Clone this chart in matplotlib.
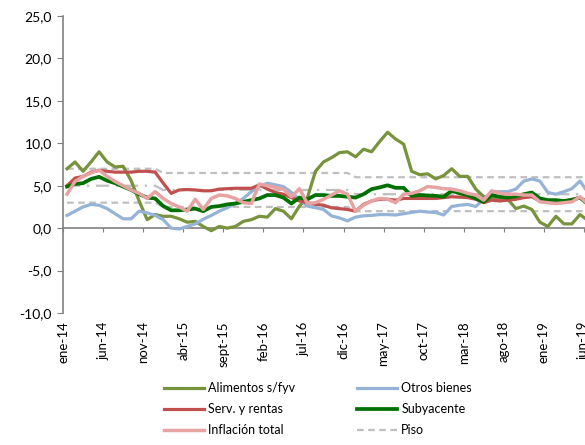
import numpy as np
import matplotlib
matplotlib.use("Agg")
import matplotlib.pyplot as plt

plt.rcParams['font.family'] = ['Lato', 'DejaVu Sans']

meses = ["ene", "feb", "mar", "abr", "may", "jun", "jul", "ago", "sept", "oct", "nov", "dic"]

alimentos = [7.0, 7.8, 6.7, 7.8, 9.0, 7.8, 7.2, 7.3, 5.6, 3.2,
             1.0, 1.6, 1.4, 1.4, 1.1, 0.7, 0.8, 0.2, -0.3, 0.2,
             0.0, 0.2, 0.8, 1.0, 1.4, 1.3, 2.3, 2.0, 1.1, 2.6,
             3.6, 6.7, 7.8, 8.3, 8.9, 9.0, 8.4, 9.3, 9.0, 10.2,
             11.3, 10.5, 9.9, 6.7, 6.3, 6.4, 5.8, 6.2, 7.0, 6.1,
             6.1, 4.6, 3.7, 3.6, 3.5, 3.4, 2.3, 2.6, 2.2, 0.7,
             0.2, 1.4, 0.5, 0.5, 1.6, 0.9]
otros = [1.5, 2.0, 2.5, 2.8, 2.7, 2.3, 1.7, 1.1, 1.1, 2.0,
         1.8, 1.5, 1.0, 0.0, -0.1, 0.2, 0.5, 1.05, 1.5, 2.0,
         2.4, 2.9, 3.5, 4.3, 4.9, 5.3, 5.1, 4.9, 4.2, 3.4,
         2.6, 2.4, 2.2, 1.45, 1.2, 0.86, 1.3, 1.45, 1.5, 1.6,
         1.6, 1.55, 1.7, 1.85, 2.0, 1.9, 1.85, 1.55, 2.55, 2.7,
         2.8, 2.55, 3.4, 4.3, 4.3, 4.3, 4.6, 5.55, 5.8, 5.55,
         4.2, 4.0, 4.3, 4.65, 5.55, 4.2]
serv = [5.0, 5.9, 6.1, 6.6, 6.8, 6.7, 6.6, 6.6, 6.6, 6.7,
        6.7, 6.6, 5.3, 4.1, 4.5, 4.55, 4.5, 4.4, 4.4, 4.6,
        4.65, 4.7, 4.7, 4.7, 5.1, 4.6, 4.2, 4.0, 3.6, 3.2,
        3.0, 2.8, 2.7, 2.4, 2.3, 2.2, 2.0, 2.8, 3.2, 3.4,
        3.4, 3.3, 3.5, 3.5, 3.5, 3.5, 3.5, 3.6, 3.7, 3.65,
        3.6, 3.4, 3.0, 3.3, 3.2, 3.3, 3.4, 3.6, 3.7, 3.2,
        3.1, 3.1, 3.2, 3.4, 3.6, 3.1]
subyacente = [4.9, 5.2, 5.3, 5.8, 6.05, 5.6, 5.3, 4.9, 4.5, 4.0,
              3.6, 3.5, 2.6, 2.1, 2.1, 2.2, 2.3, 2.0, 2.5, 2.6,
              2.8, 2.9, 3.1, 3.3, 3.5, 3.9, 3.9, 3.6, 2.9, 3.6,
              3.4, 3.9, 3.9, 3.8, 3.8, 3.7, 3.6, 4.0, 4.6, 4.8,
              5.05, 4.75, 4.75, 3.8, 3.9, 3.85, 3.8, 3.7, 4.4, 4.1,
              3.9, 3.5, 3.1, 3.9, 3.7, 3.6, 3.75, 4.0, 4.2, 3.5,
              3.3, 3.3, 3.2, 3.3, 3.6, 2.8]
inflacion = [4.0, 5.5, 6.1, 6.5, 6.85, 6.1, 5.5, 5.0, 4.5, 4.1,
             3.5, 4.3, 3.5, 2.9, 2.5, 2.0, 3.4, 2.2, 3.5, 3.9,
             3.8, 3.5, 3.0, 2.9, 5.2, 5.0, 4.8, 4.6, 3.7, 4.65,
             2.9, 3.0, 3.4, 3.9, 4.4, 4.0, 2.0, 2.7, 3.2, 3.5,
             3.4, 3.0, 4.0, 4.1, 4.4, 4.9, 4.8, 4.65, 4.6, 4.4,
             4.1, 3.9, 3.3, 4.4, 4.1, 4.0, 4.0, 3.9, 3.9, 3.1,
             3.0, 2.9, 3.0, 3.1, 3.7, 2.8]
# meta: 2014 / 2015-2016 / 2017 en adelante
techo = [7.0] * 12 + [6.5] * 24 + [6.0] * 30
centro = [5.0] * 12 + [4.5] * 24 + [4.0] * 30
piso = [3.0] * 12 + [2.5] * 24 + [2.0] * 30

n = len(alimentos)
x = np.arange(n) + 0.5
ticks = np.arange(0, n, 5)
ticklabels = [f"{meses[m % 12]}-{14 + m // 12}" for m in ticks]

fig = plt.figure(figsize=(5.85, 4.45), dpi=100)
ax = fig.add_axes([63 / 585, 1 - 313 / 445, 545 / 585, 297 / 445])

gris = "#BFBFBF"
l_piso, = ax.plot(x, piso, color=gris, lw=1.6, ls=(0, (3, 2)), zorder=1)
l_centro, = ax.plot(x, centro, color=gris, lw=1.6, ls=(0, (6, 3, 1, 3)), zorder=1)
l_techo, = ax.plot(x, techo, color=gris, lw=1.6, ls=(0, (3, 2)), zorder=1)

l_ali, = ax.plot(x, alimentos, color="#77933C", lw=2.3, zorder=3)
l_otr, = ax.plot(x, otros, color="#95B3D7", lw=2.3, zorder=3)
l_ser, = ax.plot(x, serv, color="#C0504D", lw=2.3, zorder=3)
l_sub, = ax.plot(x, subyacente, color="#007000", lw=2.7, zorder=4)
l_inf, = ax.plot(x, inflacion, color="#E6A3A2", lw=2.5, zorder=5)

for s in ["top", "right"]:
    ax.spines[s].set_visible(False)
ax.spines["bottom"].set_position(("data", 0))
ax.spines["bottom"].set_color("#808080")
ax.spines["left"].set_color("#808080")
ax.spines["bottom"].set_linewidth(1.2)
ax.spines["left"].set_linewidth(1.2)

ax.set_xlim(0, 68)
ax.set_ylim(-10, 25)
ax.set_yticks(np.arange(-10, 26, 5))
ax.set_yticklabels([f"{v:.1f}".replace(".", ",") for v in np.arange(-10, 26, 5)])
ax.set_xticks(ticks)
ax.set_xticklabels(ticklabels)
ax.tick_params(axis="y", direction="out", length=4, color="#808080", labelsize=10, pad=4)
ax.tick_params(axis="x", direction="out", length=3, color="#808080", labelsize=9.5,
               pad=64, labelrotation=90)

handles = [l_ali, l_ser, l_inf, l_centro, l_otr, l_sub, l_piso, l_techo]
labels = ["Alimentos s/fyv", "Serv. y rentas", "Inflación total", "Centro",
          "Otros bienes", "Subyacente", "Piso", "Techo"]
fig.legend(handles, labels, ncol=2, loc="upper left", bbox_to_anchor=(164 / 585, 1 - 382 / 445),
           frameon=False, fontsize=9, handlelength=3.2, handletextpad=0.35,
           columnspacing=4.9, labelspacing=0.72, borderpad=0, borderaxespad=0)

fig.savefig("out.png", dpi=100)
